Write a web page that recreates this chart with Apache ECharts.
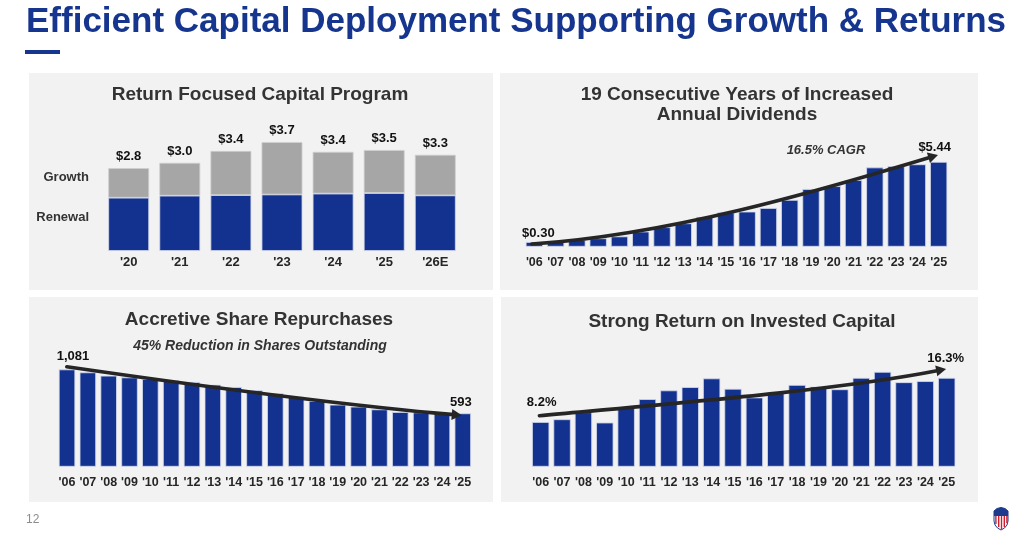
<!DOCTYPE html>
<html>
<head>
<meta charset="utf-8">
<title>Efficient Capital Deployment</title>
<script src="https://cdn.jsdelivr.net/npm/echarts@6/dist/echarts.min.js"></script>
<style>
  html, body { margin: 0; padding: 0; background: #fff; }
  #main { width: 1024px; height: 535px; }
</style>
</head>
<body>
<div id="main"></div>
<script type="text/javascript">
    // ---- data ----
    var capYears = ["'20", "'21", "'22", "'23", "'24", "'25", "'26E"];
    var capRenewal = [1.80, 1.87, 1.89, 1.91, 1.94, 1.96, 1.88];
    var capGrowth = [1.00, 1.11, 1.49, 1.77, 1.41, 1.45, 1.37];
    var capTotals = ['$2.8', '$3.0', '$3.4', '$3.7', '$3.4', '$3.5', '$3.3'];

    var years = ["'06", "'07", "'08", "'09", "'10", "'11", "'12", "'13", "'14", "'15",
                 "'16", "'17", "'18", "'19", "'20", "'21", "'22", "'23", "'24", "'25"];
    var dividends = [0.30, 0.35, 0.44, 0.54, 0.66, 0.97, 1.25, 1.50, 1.91, 2.20,
                     2.25, 2.48, 3.00, 3.70, 3.88, 4.27, 5.08, 5.16, 5.28, 5.44];
    var shares = [1081, 1048, 1011, 992, 974, 959, 941, 911, 885, 848,
                  815, 778, 730, 689, 667, 637, 608, 604, 596, 593];
    var roic = [8.2, 8.7, 10.0, 8.1, 10.9, 12.4, 14.0, 14.6, 16.2, 14.3,
                12.7, 13.6, 15.0, 14.7, 14.2, 16.3, 17.4, 15.5, 15.7, 16.3];

    // trend arrows: start, two control points, tip (x = year index, y = value)
    var divArrow = [[-0.12, 0.17], [6.85, 0.81], [14.37, 4.02], [18.97, 5.88]];
    var shareArrow = [[-0.01, 1111], [6.38, 897], [13.11, 686], [18.95, 571]];
    var roicArrow = [[-0.06, 9.36], [6.49, 11.69], [13.98, 14.07], [18.97, 17.93]];

    var BLUE = '#13328f';
    var GRAY = '#a6a6a6';
    var INK = '#262626';
    var FONT = 'Arial, Liberation Sans, sans-serif';

    var mychart = echarts.init(document.getElementById('main'));

    // label only first and last bar
    function endLabels(values, fmt, first, last) {
        var out = [];
        for (var i = 0; i < values.length; i++) {
            var item = { value: values[i] };
            if (i == 0) {
                item.label = { show: true, formatter: fmt(values[i]), offset: [first[0], 0], distance: first[1] };
            } else if (i == values.length - 1) {
                item.label = { show: true, formatter: fmt(values[i]), offset: [last[0], 0], distance: last[1] };
            }
            out.push(item);
        }
        return out;
    }

    function arrowRender(pts) {
        return function (params, api) {
            var p = pts.map(function (q) { return api.coord(q); });
            var tip = p[3], c = p[2];
            var dx = tip[0] - c[0], dy = tip[1] - c[1];
            var len = Math.sqrt(dx * dx + dy * dy);
            var ux = dx / len, uy = dy / len;
            var hl = 10, hw = 5.5;
            var bx = tip[0] - ux * hl, by = tip[1] - uy * hl;
            return {
                type: 'group',
                children: [{
                    type: 'bezierCurve',
                    shape: {
                        x1: p[0][0], y1: p[0][1],
                        cpx1: p[1][0], cpy1: p[1][1],
                        cpx2: c[0], cpy2: c[1],
                        x2: bx + ux * 2, y2: by + uy * 2
                    },
                    style: { stroke: INK, lineWidth: 3.6, fill: null, lineCap: 'round' }
                }, {
                    type: 'polygon',
                    shape: { points: [tip, [bx - uy * hw, by + ux * hw], [bx + uy * hw, by - ux * hw]] },
                    style: { fill: INK }
                }]
            };
        };
    }

    function txt(x, y, text, size, opts) {
        opts = opts || {};
        return {
            type: 'text', x: x, y: y, z: 10,
            style: {
                text: text,
                fontSize: size,
                fontWeight: opts.weight || 'bold',
                fontStyle: opts.italic ? 'italic' : 'normal',
                fontFamily: FONT,
                fill: opts.color || '#333333',
                textAlign: opts.align || 'center',
                textVerticalAlign: 'middle'
            }
        };
    }

    function catAxis(grid, data, size, margin) {
        return {
            type: 'category', gridIndex: grid, data: data,
            axisLine: { show: false }, axisTick: { show: false },
            axisLabel: { interval: 0, margin: margin, color: INK, fontWeight: 'bold', fontSize: size, fontFamily: FONT }
        };
    }
    function hiddenValueX(grid) {
        return { type: 'value', gridIndex: grid, min: -0.5, max: 19.5, show: false };
    }
    function valAxis(grid, max) {
        return { type: 'value', gridIndex: grid, min: 0, max: max, show: false, splitLine: { show: false } };
    }

    var barLabel = { position: 'top', color: '#111', fontWeight: 'bold', fontSize: 13, fontFamily: FONT };
    var edge = '#d6dbec';

    // shield logo, bottom right
    var shieldOutline = [[994, 511], [997, 508.5], [1001, 507.5], [1005, 508.5], [1008, 511], [1008, 521], [1007, 525], [1004.5, 528], [1001, 530], [997.5, 528], [995, 525], [994, 521]];
    var shieldTop = [[994, 511], [997, 508.5], [1001, 507.5], [1005, 508.5], [1008, 511], [1008, 516], [994, 516]];

    var options = {
        animation: false,
        backgroundColor: '#ffffff',
        graphic: [
            txt(26, 22, 'Efficient Capital Deployment Supporting Growth & Returns', 35, { align: 'left', color: '#15358f' }),
            { type: 'rect', shape: { x: 25, y: 50, width: 35, height: 4 }, style: { fill: '#15358f' } },
            { type: 'rect', z: -10, shape: { x: 29, y: 73, width: 464, height: 217 }, style: { fill: '#f2f2f2' } },
            { type: 'rect', z: -10, shape: { x: 500, y: 73, width: 478, height: 217 }, style: { fill: '#f2f2f2' } },
            { type: 'rect', z: -10, shape: { x: 29, y: 297, width: 464, height: 205 }, style: { fill: '#f2f2f2' } },
            { type: 'rect', z: -10, shape: { x: 501, y: 297, width: 477, height: 205 }, style: { fill: '#f2f2f2' } },
            txt(260, 95, 'Return Focused Capital Program', 19),
            txt(737, 95, '19 Consecutive Years of Increased', 19),
            txt(737, 115, 'Annual Dividends', 19),
            txt(259, 320, 'Accretive Share Repurchases', 19),
            txt(260, 346, '45% Reduction in Shares Outstanding', 14, { italic: true }),
            txt(742, 322, 'Strong Return on Invested Capital', 19),
            txt(826, 150, '16.5% CAGR', 13, { italic: true }),
            txt(89, 177, 'Growth', 13, { align: 'right' }),
            txt(89, 217, 'Renewal', 13, { align: 'right' }),
            txt(26, 520, '12', 12, { align: 'left', weight: 'normal', color: '#8c8c8c' }),
            { type: 'polygon', shape: { points: shieldOutline }, style: { fill: '#ffffff', stroke: '#1d3b8c', lineWidth: 1 } },
            { type: 'polygon', shape: { points: shieldTop }, style: { fill: '#1d3b8c' } },
            { type: 'rect', shape: { x: 995.2, y: 516, width: 1.4, height: 8 }, style: { fill: '#c8202f' } },
            { type: 'rect', shape: { x: 998.0, y: 516, width: 1.4, height: 11 }, style: { fill: '#c8202f' } },
            { type: 'rect', shape: { x: 1000.8, y: 516, width: 1.4, height: 13 }, style: { fill: '#c8202f' } },
            { type: 'rect', shape: { x: 1003.6, y: 516, width: 1.4, height: 11 }, style: { fill: '#c8202f' } },
            { type: 'rect', shape: { x: 1006.2, y: 516, width: 1.4, height: 7 }, style: { fill: '#c8202f' } }
        ],
        grid: [
            { left: 103.15, top: 132.6, width: 357.7, height: 118.4 },
            { left: 523.7, top: 153.1, width: 425.6, height: 93.6 },
            { left: 56.6, top: 358.7, width: 416.6, height: 108 },
            { left: 530, top: 357.7, width: 427.4, height: 109 }
        ],
        xAxis: [
            catAxis(0, capYears, 13, 5),
            catAxis(1, years, 12.5, 9),
            catAxis(2, years, 12.5, 9),
            catAxis(3, years, 12.5, 9),
            hiddenValueX(1), hiddenValueX(2), hiddenValueX(3)
        ],
        yAxis: [valAxis(0, 4), valAxis(1, 6), valAxis(2, 1200), valAxis(3, 20)],
        series: [
            {
                type: 'bar', name: 'Renewal', stack: 'cap', xAxisIndex: 0, yAxisIndex: 0,
                data: capRenewal, barCategoryGap: '20%',
                itemStyle: { color: BLUE, borderColor: edge, borderWidth: 0.8 }
            },
            {
                type: 'bar', name: 'Growth', stack: 'cap', xAxisIndex: 0, yAxisIndex: 0,
                data: capGrowth, barCategoryGap: '20%',
                itemStyle: { color: GRAY, borderColor: '#cfcfcf', borderWidth: 0.8 },
                label: Object.assign({ show: true, distance: 5, formatter: function (p) { return capTotals[p.dataIndex]; } }, barLabel)
            },
            {
                type: 'bar', name: 'Dividends', xAxisIndex: 1, yAxisIndex: 1, barCategoryGap: '19%',
                data: endLabels(dividends, function (v) { return '$' + v.toFixed(2); }, [4, 2], [-4, 8]),
                itemStyle: { color: BLUE, borderColor: edge, borderWidth: 0.8 },
                label: Object.assign({ show: false }, barLabel)
            },
            {
                type: 'bar', name: 'Shares', xAxisIndex: 2, yAxisIndex: 2, barCategoryGap: '21%',
                data: endLabels(shares, function (v) { return v.toLocaleString('en-US'); }, [6, 6], [-2, 4]),
                itemStyle: { color: BLUE, borderColor: edge, borderWidth: 0.8 },
                label: Object.assign({ show: false }, barLabel)
            },
            {
                type: 'bar', name: 'ROIC', xAxisIndex: 3, yAxisIndex: 3, barCategoryGap: '19%',
                data: endLabels(roic, function (v) { return v.toFixed(1) + '%'; }, [1, 13.5], [-1, 13.4]),
                itemStyle: { color: BLUE, borderColor: edge, borderWidth: 0.8 },
                label: Object.assign({ show: false }, barLabel)
            },
            { type: 'custom', xAxisIndex: 4, yAxisIndex: 1, z: 5, data: [[0, 0]], renderItem: arrowRender(divArrow) },
            { type: 'custom', xAxisIndex: 5, yAxisIndex: 2, z: 5, data: [[0, 0]], renderItem: arrowRender(shareArrow) },
            { type: 'custom', xAxisIndex: 6, yAxisIndex: 3, z: 5, data: [[0, 0]], renderItem: arrowRender(roicArrow) }
        ]
    };

    mychart.setOption(options);
</script>
</body>
</html>
